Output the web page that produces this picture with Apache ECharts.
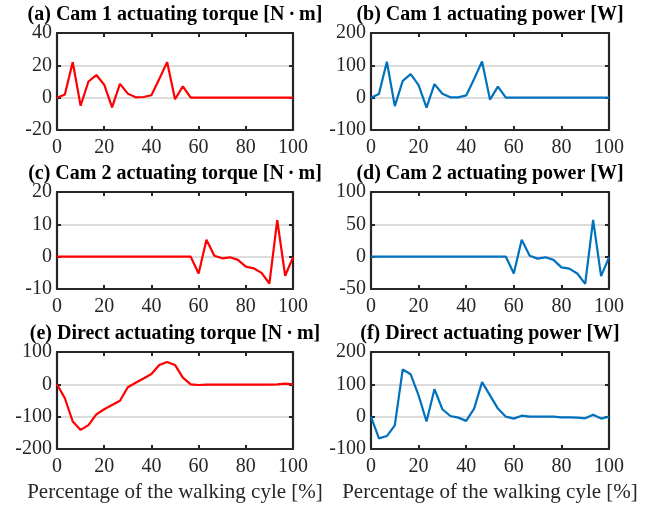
<!DOCTYPE html>
<html><head><meta charset="utf-8">
<script src="https://cdn.jsdelivr.net/npm/echarts@6/dist/echarts.min.js"></script>
<style>html,body{margin:0;padding:0;background:#fff}#c{width:656px;height:506px}</style>
</head><body><div id="c"></div>
<script>
const cycle = [0,3.33,6.67,10,13.33,16.67,20,23.33,26.67,30,33.33,36.67,40,43.33,46.67,50,53.33,56.67,60,63.33,66.67,70,73.33,76.67,80,83.33,86.67,90,93.33,96.67,100];
const cam1Torque = [0,2,22,-5,10,14,8,-6,8.5,2.5,0.2,0.4,1.5,11.5,22,-1,7,0,0,0,0,0,0,0,0,0,0,0,0,0,0];
const cam1Power = [0,11,111,-26,52,73,39,-31,42,12,1,1,7,58,112,-6,34,0,0,0,0,0,0,0,0,0,0,0,0,0,0];
const cam2Torque = [0,0,0,0,0,0,0,0,0,0,0,0,0,0,0,0,0,0,-5.2,5.2,0.3,-0.5,-0.2,-1,-3.1,-3.6,-5,-8.3,11.3,-5.9,-0.2];
const cam2Power = [0,0,0,0,0,0,0,0,0,0,0,0,0,0,0,0,0,0,-26,26,1.5,-3,-1,-5,-16.5,-18.5,-26,-42,57,-30,-1];
const directTorque = [0,-43,-115,-141,-126,-93,-77,-64,-51,-9,5,18,32,60,69,60,21,0,-2,-1,-1,-1,-1,-1,-1,-1,-1,-1,0,2,0];
const directPower = [0,-67,-60,-27,146,131,66,-15,85,23,2,-3,-13,25,107,66,25,0,-6,3,0,0,0,0,-2,-2,-3,-5,6,-6,0];
const titles = ['(a) Cam 1 actuating torque [N\u2009\u00b7\u2009m]','(b) Cam 1 actuating power [W]','(c) Cam 2 actuating torque [N\u2009\u00b7\u2009m]','(d) Cam 2 actuating power [W]','(e) Direct actuating torque [N\u2009\u00b7\u2009m]','(f) Direct actuating power [W]'];
const xTicks = [0,20,40,60,80,100];
const yRanges = [[-20,40,20],[-100,200,100],[-10,20,10],[-50,100,50],[-200,100,100],[-100,200,100]];
const seriesData = [cam1Torque,cam1Power,cam2Torque,cam2Power,directTorque,directPower];
const colors = ['#ff0000','#0072bd','#ff0000','#0072bd','#ff0000','#0072bd'];
const xName = 'Percentage of the walking cyle [%]';

const FONT = '"Liberation Serif", "Times New Roman", serif';
const AX = '#262626';
const lefts = [57, 371];
const widths = [236, 238];
const tops = [33, 192, 352];
const H = 97;

const line = {show: true, onZero: false, lineStyle: {color: AX, width: 2.2}};
const tick = {inside: true, length: 4, lineStyle: {color: AX, width: 2}};
const grid = [], xAxis = [], yAxis = [], series = [], title = [];
for (let i = 0; i < 6; i++) {
  const col = i % 2, row = Math.floor(i / 2);
  grid.push({left: lefts[col], top: tops[row], width: widths[col], height: H});
  const [ymin, ymax, yint] = yRanges[i];
  xAxis.push({type: 'value', gridIndex: i, min: 0, max: 100, interval: 20, position: 'bottom',
    axisLine: line, axisTick: tick,
    axisLabel: {fontFamily: FONT, fontSize: 20, color: AX, margin: 8},
    splitLine: {show: false},
    name: row === 2 ? xName : '', nameLocation: 'middle', nameGap: 33,
    nameTextStyle: {fontFamily: FONT, fontSize: 21, color: AX}});
  xAxis.push({type: 'value', gridIndex: i, min: 0, max: 100, interval: 20, position: 'top',
    axisLine: line, axisTick: tick, axisLabel: {show: false}, splitLine: {show: false}});
  yAxis.push({type: 'value', gridIndex: i, min: ymin, max: ymax, interval: yint, position: 'left',
    axisLine: line, axisTick: tick,
    axisLabel: {fontFamily: FONT, fontSize: 20, color: AX, margin: 5},
    splitLine: {show: true, showMinLine: false, showMaxLine: false, lineStyle: {color: '#dcdcdc', width: 2}}});
  yAxis.push({type: 'value', gridIndex: i, min: ymin, max: ymax, interval: yint, position: 'right',
    axisLine: line, axisTick: tick, axisLabel: {show: false}, splitLine: {show: false}});
  series.push({type: 'line', xAxisIndex: i * 2, yAxisIndex: i * 2, showSymbol: false, symbol: 'none',
    data: cycle.map((x, k) => [x, seriesData[i][k]]),
    lineStyle: {color: colors[i], width: 2.2}, z: 5, animation: false});
  title.push({text: titles[i], left: lefts[col] + widths[col] / 2, textAlign: 'center', top: tops[row] - 28,
    padding: 0,
    textStyle: {fontFamily: FONT, fontSize: 20, fontWeight: 'bold', color: '#000'}});
}
const chart = echarts.init(document.getElementById('c'), null, {renderer: 'canvas'});
chart.setOption({animation: false, backgroundColor: '#fff', title, grid, xAxis, yAxis, series});
</script></body></html>
